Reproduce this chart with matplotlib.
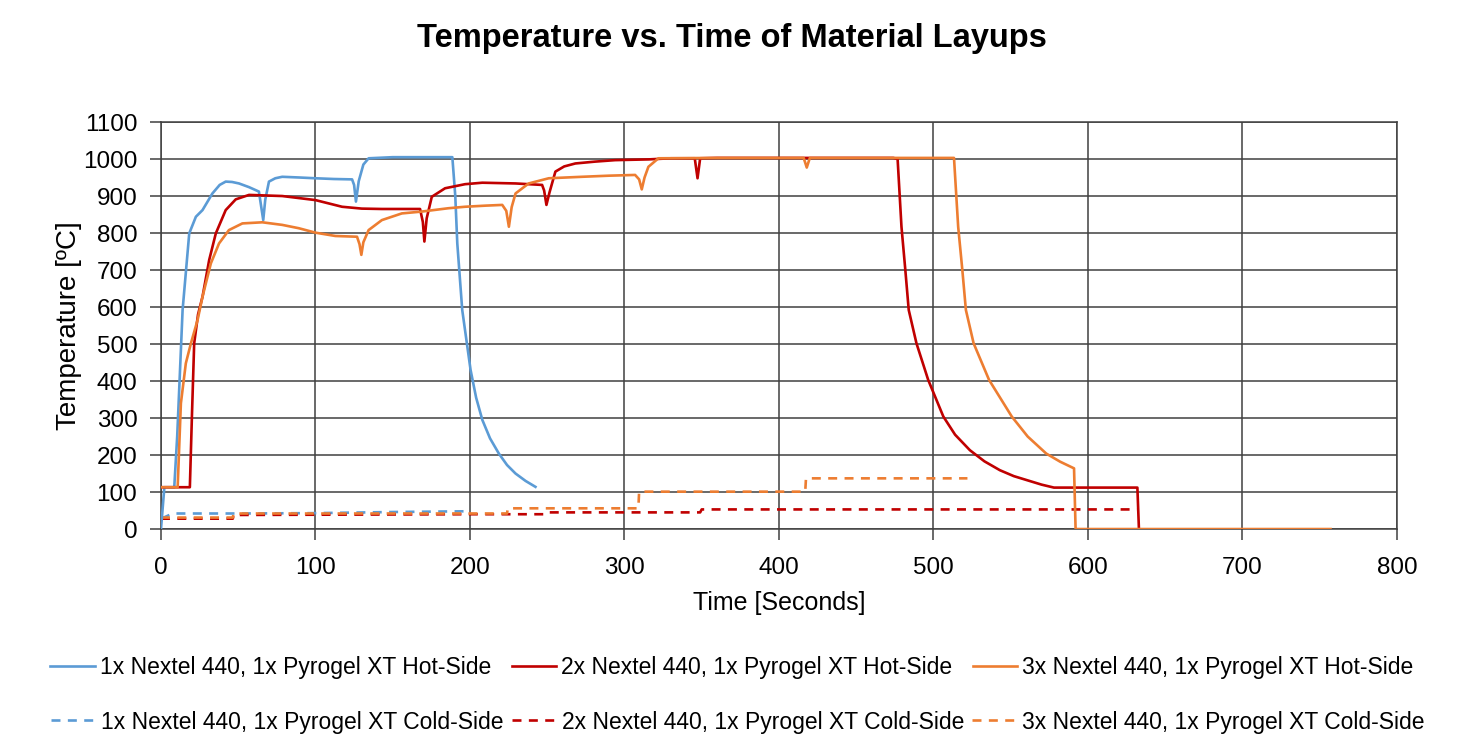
import matplotlib
matplotlib.use("Agg")
import matplotlib.pyplot as plt
from matplotlib.lines import Line2D

plt.rcParams['font.family'] = ['Liberation Sans', 'DejaVu Sans']

# ---------------- data ----------------
hot1_t = [0, 2.2, 8.6, 10.5, 14, 18.3, 22.6, 26.9, 33.3, 38, 41.9, 46, 50.5, 57, 63.4, 66.2, 67.5, 69.9,
          74, 78.5, 90, 100, 112, 123.7, 125, 126.2, 128, 131, 134.4, 150, 170, 188.6, 190.5, 191.8, 195,
          200.4, 204, 208, 213, 218.7, 224, 229.5, 236, 242.4]
hot1_T = [0, 113, 113, 250, 592, 799, 844, 862, 907, 930, 939, 938, 934, 924, 912, 835, 890, 939,
          948, 952, 950, 948, 946, 945, 930, 885, 940, 985, 1002, 1005, 1005, 1005, 900, 772, 592,
          430, 355, 295, 245, 204, 173, 150, 130, 114]

hot2_t = [0, 17.2, 18.7, 20, 21.5, 24, 26.9, 31.2, 35.5, 41.9, 48.4, 57, 78.5, 100, 117.2, 130, 143,
          155, 167.7, 169.5, 170.5, 172, 175.3, 183.9, 196.8, 208, 229.5, 246.7, 248, 249.5, 251.5,
          255.3, 261, 268.2, 281, 294, 315.5, 330, 345.5, 347.3, 349, 360, 420, 474, 476.8, 479.3,
          481.8, 484, 489, 496.6, 506.4, 514, 523.6, 533, 543, 552, 560.6, 570, 578, 600, 620, 632,
          633]
hot2_T = [113, 113, 113, 300, 502, 580, 628, 727, 799, 862, 891, 903, 900, 889, 871, 866, 865,
          865, 865, 830, 777, 840, 898, 921, 932, 936, 934, 930, 915, 876, 910, 966, 980, 988,
          993, 997, 999, 1002, 1002, 948, 1002, 1003, 1003, 1003, 1000, 817, 700, 592, 502, 403,
          304, 255, 213, 183, 159, 143, 132, 120, 112, 112, 112, 112, 0]

hot3_t = [0, 10.8, 12.9, 16.1, 19.4, 23.7, 26.9, 32.3, 37.6, 44, 52.7, 65.6, 78.5, 89.2, 100, 112.9,
          126.9, 128.5, 129.7, 131, 134.4, 143, 155.9, 168.8, 186, 196.8, 210, 220.9, 223.5, 225.2,
          227, 229.5, 238, 251, 272.5, 290, 306.9, 309.5, 311.2, 313, 315.5, 322, 360, 416, 418,
          420, 460, 513.3, 516, 518.7, 521, 526, 536, 550.7, 561, 573, 582, 591, 592, 620, 680,
          757]
hot3_T = [113, 113, 340, 448, 502, 565, 628, 718, 772, 808, 826, 829, 822, 813, 801, 792, 790,
          770, 741, 775, 808, 835, 853, 858, 867, 871, 874, 876, 860, 817, 870, 907, 934, 948,
          952, 955, 957, 945, 918, 950, 979, 1002, 1003, 1003, 977, 1003, 1003, 1003, 817, 700,
          592, 502, 403, 304, 250, 204, 182, 164, 0, 0, 0, 0]

cold1_t = [0, 2.3, 7.5, 50, 100, 150, 198]
cold1_T = [30, 32, 42, 42, 43, 46, 48]

cold2_t = [0, 46.5, 47, 200, 250, 251, 349, 350, 632]
cold2_T = [28, 28, 38, 40, 40, 45, 45, 53, 53]

cold3_t = [0, 46.5, 47, 224, 224.5, 309, 309.5, 417, 417.5, 522]
cold3_T = [31, 31, 42, 42, 56, 56, 101, 101, 137, 137]

labels_hot = ["1x Nextel 440, 1x Pyrogel XT Hot-Side",
              "2x Nextel 440, 1x Pyrogel XT Hot-Side",
              "3x Nextel 440, 1x Pyrogel XT Hot-Side"]
labels_cold = ["1x Nextel 440, 1x Pyrogel XT Cold-Side",
               "2x Nextel 440, 1x Pyrogel XT Cold-Side",
               "3x Nextel 440, 1x Pyrogel XT Cold-Side"]

x_ticks = [0, 100, 200, 300, 400, 500, 600, 700, 800]
y_ticks = list(range(0, 1101, 100))

colors = ['#5B9BD5', '#C00000', '#ED7D31']
dash = (0, (3.4, 2.8))

# ---------------- figure ----------------
fig = plt.figure(figsize=(14.7, 7.36), dpi=100)
ax = fig.add_axes([0.1095, 0.2812, 0.9503 - 0.1095, 0.8342 - 0.2812])

hots = [(hot1_t, hot1_T), (hot2_t, hot2_T), (hot3_t, hot3_T)]
colds = [(cold1_t, cold1_T), (cold2_t, cold2_T), (cold3_t, cold3_T)]
hot_handles, cold_handles = [], []
for (t, T), c, lab in zip(colds, colors, labels_cold):
    h, = ax.plot(t, T, color=c, lw=1.9, ls=dash, label=lab, zorder=3)
    cold_handles.append(h)
for (t, T), c, lab in zip(hots, colors, labels_hot):
    h, = ax.plot(t, T, color=c, lw=1.9, label=lab, zorder=4)
    hot_handles.append(h)

ax.set_xlim(0, 800)
ax.set_ylim(0, 1100)
ax.set_xticks(x_ticks)
ax.set_yticks(y_ticks)
ax.grid(True, color='#404040', lw=1.1, zorder=1)
for s in ax.spines.values():
    s.set_color('#404040')
    s.set_linewidth(1.1)
ax.tick_params(axis='both', length=8, width=1.1, color='#404040', labelsize=17.5)
ax.tick_params(axis='x', pad=12)
ax.tick_params(axis='y', pad=9)
ax.set_xlabel("Time [Seconds]", fontsize=18, labelpad=9)
ax.set_ylabel("Temperature [ºC]", fontsize=20, labelpad=1)

fig.text(0.498, 0.948, "Temperature vs. Time of Material Layups", fontsize=23.5,
         fontweight='bold', ha='center', va='center')

leg1 = fig.legend(handles=hot_handles, loc='center', bbox_to_anchor=(0.498, 0.0924), ncol=3,
                  frameon=False, fontsize=16.5, handlelength=1.96, handletextpad=0.22,
                  columnspacing=0.87, borderpad=0, borderaxespad=0)
cold_leg_handles = [Line2D([], [], color=c, lw=1.9, ls=dash) for c in colors]
leg2 = fig.legend(handles=cold_leg_handles, labels=labels_cold, loc='center',
                  bbox_to_anchor=(0.502, 0.019), ncol=3, frameon=False, fontsize=16.5,
                  handlelength=1.96, handletextpad=0.22, columnspacing=0.35,
                  borderpad=0, borderaxespad=0)

fig.savefig("out.png", dpi=100)
